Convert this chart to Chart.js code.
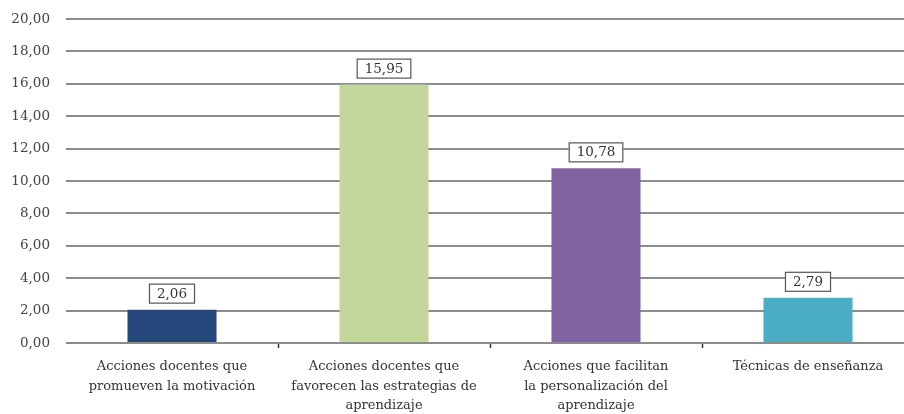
<!DOCTYPE html>
<html>
<head>
<meta charset="utf-8">
<script src="https://cdn.jsdelivr.net/npm/chart.js@4/dist/chart.umd.min.js"></script>
<style>
  html, body { margin: 0; padding: 0; background: #fff; overflow: hidden; }
  #wrap { position: relative; width: 918px; height: 414px; }
</style>
</head>
<body>
<div id="wrap"><canvas id="c"></canvas></div>
<script>
// Category labels (split into lines as they are printed under the axis)
const categories = [
  ['Acciones docentes que', 'promueven la motivación'],
  ['Acciones docentes que', 'favorecen las estrategias de', 'aprendizaje'],
  ['Acciones que facilitan', 'la personalización del', 'aprendizaje'],
  ['Técnicas de enseñanza']
];
// Percentage per category
const values = [2.06, 15.95, 10.78, 2.79];
// One fill colour per bar
const barColors = ['#25477c', '#c3d69b', '#8064a2', '#4bacc6'];
// Value axis range and step
const yMin = 0, yMax = 20, yStep = 2;

const fmt = v => v.toFixed(2).replace('.', ',');
const FONT = 'DejaVu Serif';

// Boxed value labels above each bar
const boxedLabels = {
  id: 'boxedLabels',
  afterDatasetsDraw(chart) {
    const ctx = chart.ctx;
    const meta = chart.getDatasetMeta(0);
    ctx.save();
    ctx.font = '13.5px "' + FONT + '"';
    ctx.textAlign = 'center';
    ctx.textBaseline = 'middle';
    meta.data.forEach((bar, i) => {
      const txt = fmt(chart.data.datasets[0].data[i]);
      const w = ctx.measureText(txt).width + 16;
      const h = 20;
      const x = bar.x - w / 2;
      const y = bar.y - 6 - h;
      ctx.fillStyle = '#ffffff';
      ctx.fillRect(x, y, w, h);
      ctx.strokeStyle = '#555555';
      ctx.lineWidth = 1.2;
      ctx.strokeRect(x + 0.5, y + 0.5, w - 1, h - 1);
      ctx.fillStyle = '#333333';
      ctx.fillText(txt, bar.x, y + h / 2 + 0.5);
    });
    ctx.restore();
  }
};

new Chart(document.getElementById('c'), {
  type: 'bar',
  data: {
    labels: categories,
    datasets: [{
      data: values,
      backgroundColor: barColors,
      borderWidth: 0,
      barPercentage: 0.7,
      categoryPercentage: 0.6
    }]
  },
  options: {
    responsive: true,
    maintainAspectRatio: false,
    animation: false,
    events: [],
    layout: { padding: { top: 19, right: 4, left: 0, bottom: 0 } },
    plugins: { legend: { display: false }, tooltip: { enabled: false } },
    scales: {
      x: {
        border: { display: false },
        grid: {
          offset: true,
          drawOnChartArea: false,
          drawTicks: true,
          tickLength: 5,
          tickWidth: 1.5,
          tickColor: ctx => (ctx.index === 0 ? 'rgba(0,0,0,0)' : '#333333')
        },
        ticks: {
          padding: 9,
          color: '#333333',
          font: { family: FONT, size: 13, lineHeight: 1.5 },
          maxRotation: 0,
          autoSkip: false
        },
        afterFit(scale) { scale.height = 71; }
      },
      y: {
        min: yMin,
        max: yMax,
        border: { display: false },
        grid: { color: '#8c8c8c', lineWidth: 2, drawTicks: false },
        ticks: {
          stepSize: yStep,
          padding: 16,
          color: '#444444',
          font: { family: FONT, size: 13.5 },
          callback: v => fmt(v)
        },
        afterFit(scale) {
          scale.width = 66;
          scale.paddingTop = 0;
          scale.paddingBottom = 0;
        }
      }
    }
  },
  plugins: [boxedLabels]
});
</script>
</body>
</html>
